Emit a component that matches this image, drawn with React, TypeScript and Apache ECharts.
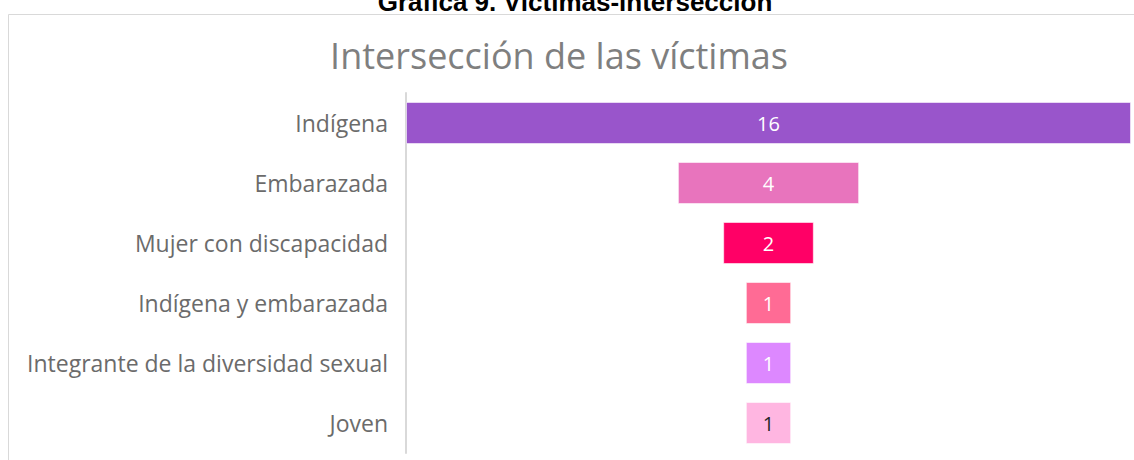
import React, { useEffect, useRef } from "react";
import * as echarts from "echarts";

const categories = [
  "Indígena",
  "Embarazada",
  "Mujer con discapacidad",
  "Indígena y embarazada",
  "Integrante de la diversidad sexual",
  "Joven",
];
const values = [16, 4, 2, 1, 1, 1];
const barColors = ["#9955CB", "#E874BD", "#FF0066", "#FF6B95", "#DD88FF", "#FFB6E1"];
const labelColors = ["#ffffff", "#ffffff", "#ffffff", "#ffffff", "#ffffff", "#262626"];
const chartTitle = "Intersección de las víctimas";
const docTitle = "Gráfica 9. Víctimas-intersección";

export default function App() {
  const ref = useRef<HTMLDivElement>(null);
  useEffect(() => {
    document.body.style.margin = "0";
    const chart = echarts.init(ref.current!, undefined, { renderer: "svg" });
    const maxV = Math.max(...values);
    const offsets = values.map((v) => (maxV - v) / 2);
    chart.setOption({
      animation: false,
      backgroundColor: "#ffffff",
      grid: { left: 406, right: 3, top: 93, bottom: 7, containLabel: false },
      xAxis: { type: "value", min: 0, max: maxV, show: false },
      yAxis: {
        type: "category",
        data: categories,
        inverse: true,
        axisLine: { show: true, lineStyle: { color: "#d9d9d9", width: 2 } },
        axisTick: { show: false },
        axisLabel: {
          color: "#6b6b6b",
          fontSize: 23,
          fontFamily: "Open Sans",
          margin: 18,
        },
      },
      graphic: [
        {
          type: "rect",
          shape: { x: 8.5, y: 14.5, width: 1200, height: 600 },
          style: { fill: "none", stroke: "#d9d9d9", lineWidth: 1 },
          z: -10,
          silent: true,
        },
        {
          type: "text",
          x: 575,
          y: 2,
          style: {
            text: docTitle,
            font: "bold 26px 'Liberation Sans', Arial, sans-serif",
            fill: "#000000",
            textAlign: "center",
            textVerticalAlign: "middle",
          },
        },
        {
          type: "text",
          x: 559,
          y: 55,
          style: {
            text: chartTitle,
            font: "36px 'Open Sans', sans-serif",
            fill: "#7f7f7f",
            textAlign: "center",
            textVerticalAlign: "middle",
          },
        },
      ],
      series: [
        {
          type: "bar",
          stack: "f",
          data: offsets,
          itemStyle: { color: "transparent" },
          barCategoryGap: "30%",
          silent: true,
        },
        {
          type: "bar",
          stack: "f",
          barCategoryGap: "30%",
          data: values.map((v, i) => ({
            value: v,
            itemStyle: { color: barColors[i] },
            label: { color: labelColors[i] },
          })),
          itemStyle: { borderColor: "rgba(255,255,255,0.55)", borderWidth: 1 },
          label: {
            show: true,
            position: "inside",
            fontSize: 20,
            fontFamily: "Open Sans",
          },
        },
      ],
    });
    return () => chart.dispose();
  }, []);
  return <div ref={ref} style={{ width: 1134, height: 460 }} />;
}
